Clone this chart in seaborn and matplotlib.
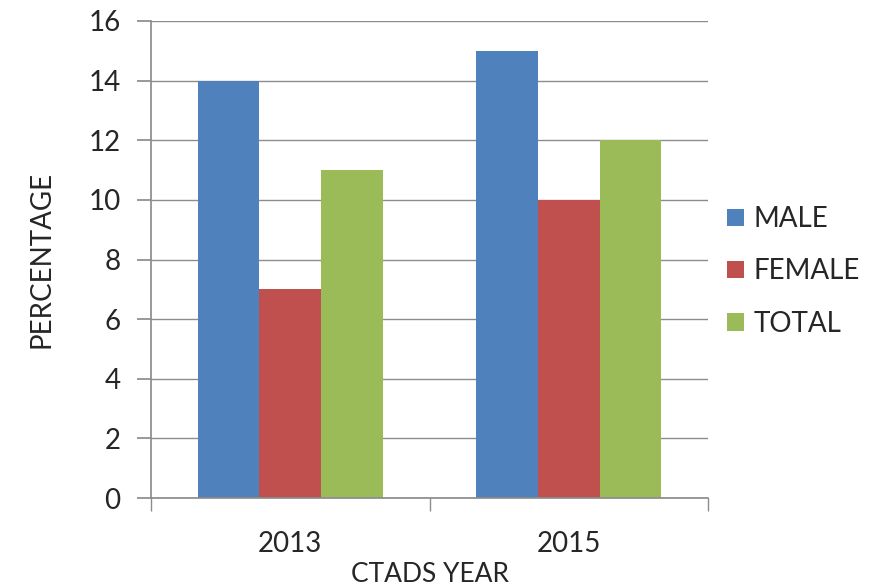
import matplotlib
matplotlib.use("Agg")
import matplotlib.pyplot as plt
import seaborn as sns
import pandas as pd
from matplotlib.ticker import FixedLocator

years = ["2013", "2015"]
groups = ["MALE", "FEMALE", "TOTAL"]
male = [14, 15]
female = [7, 10]
total = [11, 12]
colors = ["#4F81BD", "#C0504D", "#9BBB59"]
y_ticks = [0, 2, 4, 6, 8, 10, 12, 14, 16]

df = pd.DataFrame({
    "year": years * 3,
    "group": [g for g in groups for _ in years],
    "value": male + female + total,
})

sns.set_theme(style="white")
plt.rcParams["font.family"] = ["Lato", "DejaVu Sans"]

fig = plt.figure(figsize=(8.77, 5.86), dpi=100)
ax = fig.add_axes([0.1722, 0.150, 0.6351, 0.8142])

sns.barplot(data=df, x="year", y="value", hue="group", hue_order=groups,
            palette=colors, width=0.665, saturation=1, linewidth=0,
            ax=ax, legend=True)

ax.set_xlim(-0.5, 1.5)
ax.set_ylim(0, 16)
ax.set_yticks(y_ticks)
ax.yaxis.grid(True, color="#8c8c8c", linewidth=1)
ax.set_axisbelow(True)

for side in ["top", "right"]:
    ax.spines[side].set_visible(False)
ax.spines["left"].set_color("#8c8c8c")
ax.spines["bottom"].set_color("#8c8c8c")

ax.tick_params(axis="y", which="major", length=10, color="#8c8c8c",
               labelsize=20, pad=12, left=True)
ax.tick_params(axis="x", which="major", length=0, labelsize=20, pad=24)
ax.xaxis.set_minor_locator(FixedLocator([-0.5, 0.5, 1.5]))
ax.tick_params(axis="x", which="minor", length=9, color="#8c8c8c",
               bottom=True, direction="out")

ax.set_xlabel("CTADS YEAR", fontsize=19, labelpad=3)
ax.set_ylabel("PERCENTAGE", fontsize=20, labelpad=24)

leg = ax.legend(loc="center left", bbox_to_anchor=(0.99, 0.475), frameon=False,
                fontsize=20, handlelength=0.58, handleheight=0.58,
                handletextpad=0.35, labelspacing=0.95)

fig.savefig("out.png", dpi=100)
